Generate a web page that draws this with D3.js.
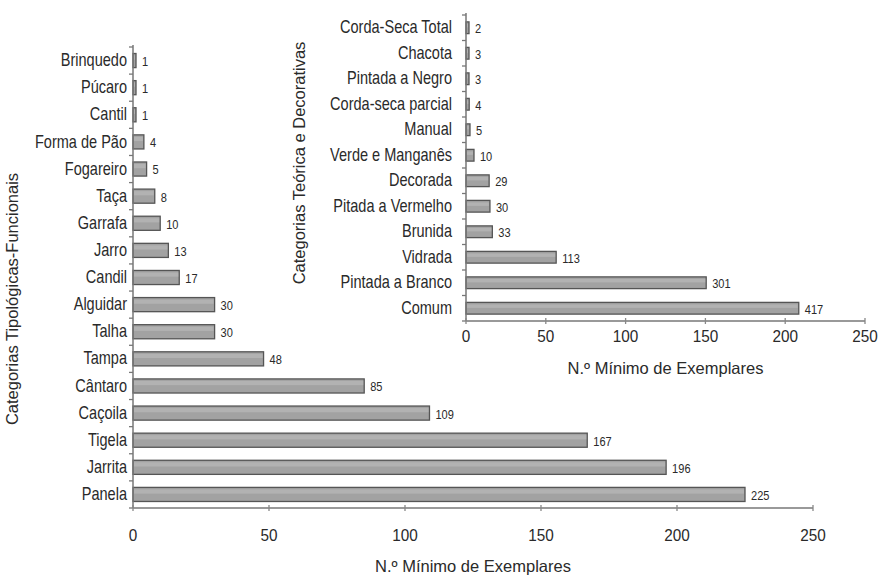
<!DOCTYPE html>
<html><head><meta charset="utf-8">
<script src="https://cdn.jsdelivr.net/npm/d3@7"></script>
<style>
body{margin:0;background:#fff;}
svg text{font-family:"Liberation Sans",Arial,sans-serif;fill:#2a2a2a;}
</style></head><body>
<svg id="c" width="881" height="579"></svg>
<script>
// Main chart data (Categorias Tipológicas-Funcionais)
const mainCategories = ["Brinquedo","Púcaro","Cantil","Forma de Pão","Fogareiro","Taça","Garrafa","Jarro","Candil","Alguidar","Talha","Tampa","Cântaro","Caçoila","Tigela","Jarrita","Panela"];
const mainValues = [1,1,1,4,5,8,10,13,17,30,30,48,85,109,167,196,225];
const mainTicks = [0,50,100,150,200,250];

// Inset chart data (Categorias Teórica e Decorativas)
const insetCategories = ["Corda-Seca Total","Chacota","Pintada a Negro","Corda-seca parcial","Manual","Verde e Manganês","Decorada","Pitada a Vermelho","Brunida","Vidrada","Pintada a Branco","Comum"];
const insetValues = [2,3,3,4,5,10,29,30,33,113,301,417];
const insetTicks = [0,50,100,150,200,250];

const axisTitle = "N.º Mínimo de Exemplares";
const svg = d3.select("#c");

function condense(sel, f){
  sel.each(function(){
    const w = this.getComputedTextLength();
    d3.select(this).attr("textLength", w*f).attr("lengthAdjust","spacingAndGlyphs");
  });
}

function drawChart(o){
  const g = svg.append("g");
  const x = d3.scaleLinear().domain(o.barDomain).range([o.x0,o.x1]);
  const xAxisScale = d3.scaleLinear().domain([0,250]).range([o.x0,o.x1]);
  const y = d3.scaleBand().domain(o.cats).range([o.y0,o.y1]).paddingInner(o.pad).paddingOuter(o.pad/2);
  const step = y.step();
  const bw = d => Math.max(3, x(d)-x(0));
  // bars
  g.selectAll("rect.bar").data(o.vals).enter().append("rect")
    .attr("x", x(0)).attr("y",(d,i)=>y(o.cats[i]))
    .attr("width", bw).attr("height", y.bandwidth())
    .attr("fill","#a2a2a2").attr("stroke","#555").attr("stroke-width",1.3);
  g.selectAll("rect.hl").data(o.vals).enter().append("rect")
    .attr("x", x(0)+1).attr("y",(d,i)=>y(o.cats[i])+2)
    .attr("width", d=>Math.max(0.5, bw(d)-2)).attr("height", y.bandwidth()*0.3)
    .attr("fill","#b2b2b2");
  // value labels
  const vl = g.selectAll("text.val").data(o.vals).enter().append("text")
    .attr("x", d=>x(0)+bw(d)+o.gap)
    .attr("y",(d,i)=>y(o.cats[i])+y.bandwidth()/2+2)
    .attr("dominant-baseline","middle")
    .attr("font-size",o.valSize).text(d=>d);
  condense(vl, 0.85);
  // y axis line
  g.append("line").attr("x1",o.x0).attr("x2",o.x0).attr("y1",o.y0-2).attr("y2",o.y1)
    .attr("stroke","#777").attr("stroke-width",1.5);
  // y ticks at boundaries
  d3.range(o.cats.length+1).forEach(i=>{
    const yy = o.y0 + i*step;
    g.append("line").attr("x1",o.x0-4).attr("x2",o.x0).attr("y1",yy).attr("y2",yy)
      .attr("stroke","#777").attr("stroke-width",1.3);
  });
  // category labels (horizontally condensed)
  g.selectAll("text.cat").data(o.cats).enter().append("text")
    .attr("transform",d=>`translate(${o.x0-o.labGap},${y(d)+y.bandwidth()/2+1}) scale(0.83,1)`)
    .attr("text-anchor","end").attr("dominant-baseline","middle")
    .attr("font-size",o.catSize).text(d=>d);
  // x axis
  g.append("line").attr("x1",o.x0).attr("x2",o.x1).attr("y1",o.y1).attr("y2",o.y1)
    .attr("stroke","#777").attr("stroke-width",1.5);
  o.ticks.forEach(t=>{
    g.append("line").attr("x1",xAxisScale(t)).attr("x2",xAxisScale(t)).attr("y1",o.y1-3).attr("y2",o.y1+3)
      .attr("stroke","#888").attr("stroke-width",1.3);
    const tl = g.append("text").attr("x",xAxisScale(t)).attr("y",o.y1+o.tickDy)
      .attr("text-anchor","middle").attr("dominant-baseline","middle")
      .attr("font-size",o.tickSize).text(t);
    condense(tl, 0.9);
  });
  // titles
  g.append("text").attr("x",(o.x0+o.x1)/2).attr("y",o.xTitleY)
    .attr("text-anchor","middle").attr("dominant-baseline","middle")
    .attr("font-size",o.titleSize).text(axisTitle);
  g.append("text").attr("transform",`translate(${o.yTitleX},${o.yTitleY}) rotate(-90)`)
    .attr("text-anchor","middle").attr("dominant-baseline","middle")
    .attr("font-size",o.titleSize).text(o.yTitle);
}

drawChart({cats:mainCategories, vals:mainValues, ticks:mainTicks, barDomain:[0,250],
  x0:133, x1:813, y0:47, y1:508, pad:0.48, gap:6, valSize:13, catSize:17.5, labGap:6,
  tickSize:17, tickDy:29, xTitleY:568, titleSize:16.5, yTitleX:14, yTitleY:299,
  yTitle:"Categorias Tipológicas-Funcionais"});

drawChart({cats:insetCategories, vals:insetValues, ticks:insetTicks, barDomain:[0,500],
  x0:466, x1:865, y0:15, y1:321, pad:0.54, gap:6, valSize:13, catSize:17.5, labGap:14,
  tickSize:17, tickDy:17, xTitleY:370, titleSize:16.5, yTitleX:301, yTitleY:163,
  yTitle:"Categorias Teórica e Decorativas"});
</script>
</body></html>
